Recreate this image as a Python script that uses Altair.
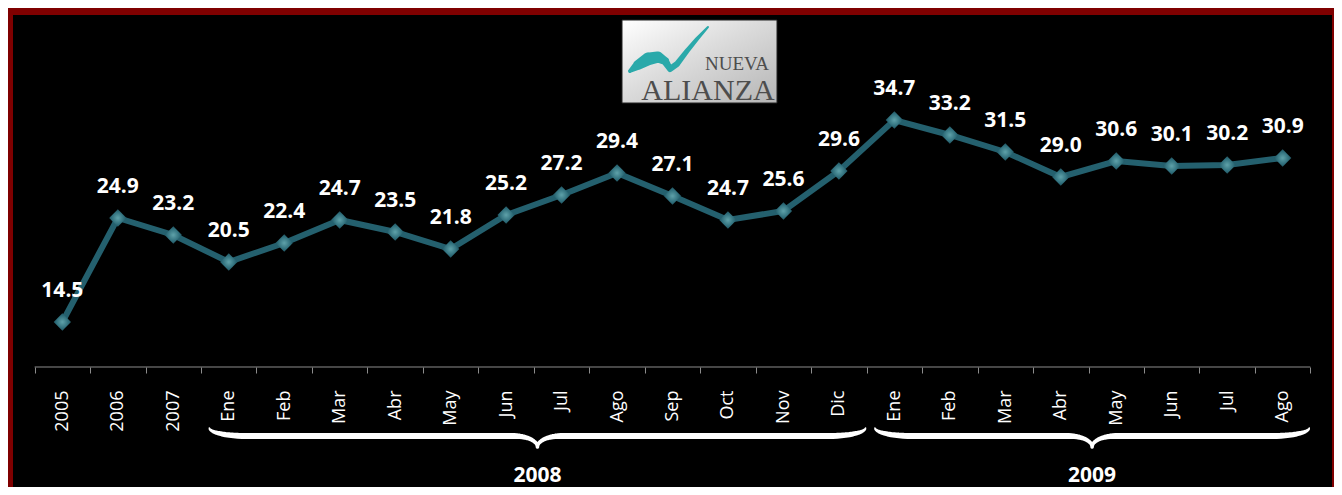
import altair as alt
import pandas as pd
import numpy as np

# ---------------- data ----------------
categories = ["2005", "2006", "2007",
              "Ene", "Feb", "Mar", "Abr", "May", "Jun", "Jul", "Ago", "Sep", "Oct", "Nov", "Dic",
              "Ene", "Feb", "Mar", "Abr", "May", "Jun", "Jul", "Ago"]
periods = ["", "", ""] + ["2008"] * 12 + ["2009"] * 8
values = [14.5, 24.9, 23.2, 20.5, 22.4, 24.7, 23.5, 21.8, 25.2, 27.2, 29.4, 27.1,
          24.7, 25.6, 29.6, 34.7, 33.2, 31.5, 29.0, 30.6, 30.1, 30.2, 30.9]
group_labels = ["2008", "2009"]
group_start = [3, 15]
group_end = [15, 23]
logo_top = "NUEVA"
logo_bottom = "ALIANZA"

keys = [(p + "|" + c) if p else c for p, c in zip(periods, categories)]
df = pd.DataFrame({"key": keys, "value": values})

# ---------------- layout helpers ----------------
N = len(categories)
P = 0.39                      # outer band padding
W, H = 1319, 472              # plot area
PAD = {"left": 5, "top": 7, "right": 2, "bottom": 0}
YMAX = 45.2
YMIN = YMAX - H / 10.0
step = W / (N + 2 * P)
AXIS_Y = 367                  # page pixel row of the category axis (value 10)
PLOT_BOTTOM = 8 + PAD["top"] + H


def to_u(px):
    return (px - 8 - PAD["left"] - P * step) / step


def to_v(py):
    return YMAX - (py - 8 - PAD["top"]) * (YMAX - YMIN) / H


yscale = alt.Scale(domain=[YMIN, YMAX], nice=False, zero=False)
uscale = alt.Scale(domain=[-P, N + P], nice=False, zero=False)

x_enc = alt.X(
    "key:N", sort=keys, title=None,
    scale=alt.Scale(type="band", domain=keys, paddingInner=0, paddingOuter=P, align=0.5),
    axis=alt.Axis(
        labelAngle=-90, labelFont="Open Sans", labelFontSize=18, labelColor="#ffffff",
        labelPadding=17, tickBand="extent", tickColor="#8c8c8c", tickSize=6, tickWidth=1,
        domain=False, grid=False, offset=-(PLOT_BOTTOM - AXIS_Y),
        labelExpr="indexof(datum.label, '|') >= 0 ? substring(datum.label, indexof(datum.label, '|') + 1) : datum.label",
    ),
)
y_enc = alt.Y("value:Q", scale=yscale, axis=None)

base = alt.Chart(df).encode(x=x_enc, y=y_enc)
line = base.mark_line(color="#24606e", strokeWidth=6)
points = base.mark_point(
    shape="diamond", size=300, filled=True, opacity=1,
    fill=alt.Gradient(gradient="radial", stops=[
        alt.GradientStop(color="#5fa2aa", offset=0),
        alt.GradientStop(color="#2e6d7a", offset=0.6),
        alt.GradientStop(color="#1b4753", offset=1)],
        x1=0.5, y1=0.5, r1=0, x2=0.5, y2=0.5, r2=0.6),
)
labels = base.mark_text(
    font="Open Sans", fontSize=21, fontWeight="bold", color="#ffffff",
    dy=-25, baseline="alphabetic",
).encode(text=alt.Text("value:Q", format=".1f"))

main = alt.layer(line, points, labels)

# ---------------- decorations ----------------
uenc = alt.X("u:Q", scale=uscale, axis=None)
venc = alt.Y("v:Q", scale=yscale, axis=None)

rule = alt.Chart(pd.DataFrame({"u": [0], "u2": [N], "v": [10]})).mark_rule(
    color="#8c8c8c", strokeWidth=1).encode(x=uenc, x2="u2:Q", y=venc)

# curly braces under the month groups
rows = []
t = np.linspace(0, np.pi / 2, 14)
vt, vb, vc = to_v(428), to_v(436), to_v(447)
for g, (s, e) in enumerate(zip(group_start, group_end)):
    u0, u1 = s + 0.15, e - 0.02
    um = (u0 + u1) / 2
    a, b = 0.67, 0.42
    half = []
    for ti in t:
        half.append((u0 + a * (1 - np.cos(ti)), vb + (vt - vb) * (1 - np.sin(ti)), 1.5 + 4.5 * np.sin(ti)))
    for ti in t:
        half.append((um - b + b * np.sin(ti), vb - (vb - vc) * (1 - np.cos(ti)), 6 - 2.5 * np.sin(ti)))
    full = half + [(2 * um - uu, vv, ww) for (uu, vv, ww) in reversed(half)]
    for i, (uu, vv, ww) in enumerate(full):
        rows.append({"g": g, "o": i, "u": uu, "v": vv, "w": ww})
braces = alt.Chart(pd.DataFrame(rows)).mark_trail(color="#ffffff").encode(
    x=uenc, y=venc, size=alt.Size("w:Q", scale=None, legend=None),
    detail="g:N", order="o:Q")

years = alt.Chart(pd.DataFrame({
    "u": [(s + 0.15 + e - 0.02) / 2 for s, e in zip(group_start, group_end)],
    "v": [to_v(476)] * len(group_labels),
    "t": group_labels})).mark_text(
    font="Open Sans", fontSize=21, fontWeight="bold", color="#ffffff", baseline="middle"
).encode(x=uenc, y=venc, text="t:N")

# logo
logo_rect = alt.Chart(pd.DataFrame({
    "u": [to_u(622)], "u2": [to_u(777)], "v": [to_v(20)], "v2": [to_v(103)]})).mark_rect(
    fill=alt.Gradient(gradient="linear", stops=[
        alt.GradientStop(color="#ffffff", offset=0),
        alt.GradientStop(color="#dcdcdc", offset=0.45),
        alt.GradientStop(color="#b5b5b5", offset=1)],
        x1=0, y1=0, x2=1, y2=1),
    stroke="#222222", strokeWidth=1,
).encode(x=uenc, x2="u2:Q", y=venc, y2="v2:Q")

sw_px = [(630, 71, 4), (638, 65, 10), (648, 59, 13), (658, 57, 11), (665, 61, 8),
         (670, 69, 6), (677, 64, 6), (687, 51, 5), (697, 39, 4), (708, 27, 2)]
swoosh = alt.Chart(pd.DataFrame({
    "o": list(range(len(sw_px))),
    "u": [to_u(p[0]) for p in sw_px],
    "v": [to_v(p[1]) for p in sw_px],
    "w": [p[2] for p in sw_px]})).mark_trail(color="#2aa9aa").encode(
    x=uenc, y=venc, size=alt.Size("w:Q", scale=None, legend=None), order="o:Q")

nueva = alt.Chart(pd.DataFrame({"u": [to_u(737)], "v": [to_v(70)], "t": [logo_top]})).mark_text(
    font="Liberation Serif", fontSize=19, color="#4d4d4d", baseline="alphabetic"
).encode(x=uenc, y=venc, text="t:N")
alianza = alt.Chart(pd.DataFrame({"u": [to_u(708)], "v": [to_v(100)], "t": [logo_bottom]})).mark_text(
    font="Liberation Serif", fontSize=30, color="#4d4d4d", baseline="alphabetic"
).encode(x=uenc, y=venc, text="t:N")

deco = alt.layer(rule, braces, years, logo_rect, swoosh, nueva, alianza)

chart = alt.layer(main, deco).resolve_scale(x="independent").properties(
    width=W, height=H, padding=PAD, background="#7f0000",
    autosize=alt.AutoSizeParams(type="none"),
).configure_view(fill="#000000", stroke=None)

chart.save("out.html", embed_options={"renderer": "svg", "actions": False})
